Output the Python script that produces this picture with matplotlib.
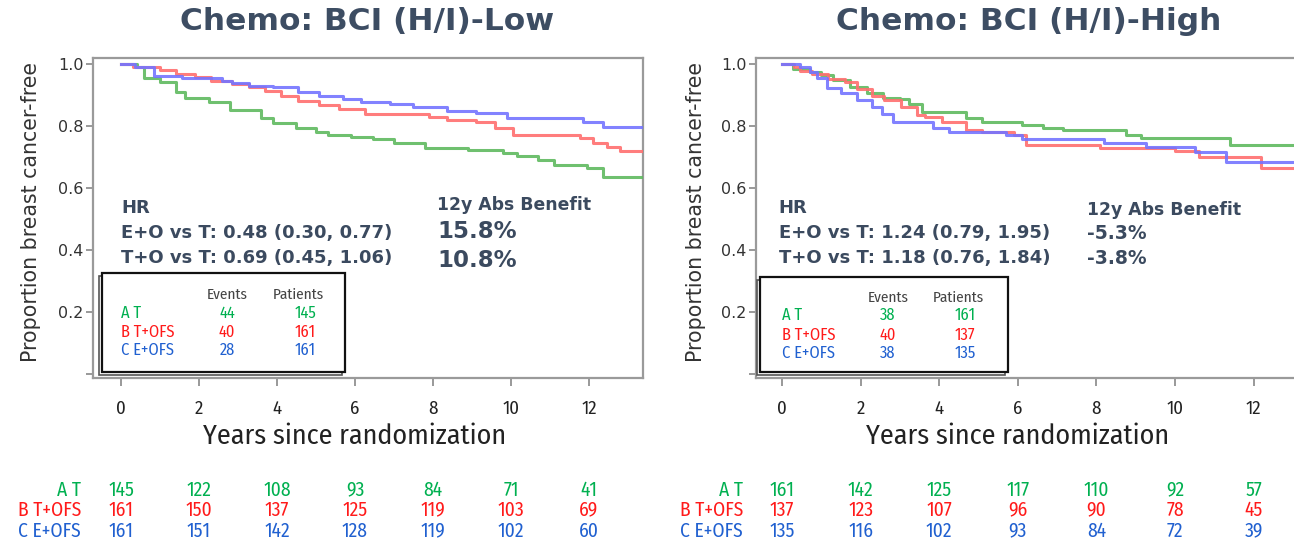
import matplotlib
matplotlib.use("Agg")
import matplotlib.pyplot as plt
from matplotlib.patches import Rectangle
from matplotlib import transforms

# ---------------- data ----------------
groups = ["A T", "B T+OFS", "C E+OFS"]

# Left panel: Chemo BCI (H/I)-Low  (step points: time in years, survival)
low_T_t = [0, 0.4, 0.6, 1.0, 1.4, 1.65, 2.25, 2.8, 3.6, 3.9, 4.5, 5.0, 5.3, 5.9, 6.45, 7.0, 7.8, 8.9, 9.8, 10.15, 10.7, 11.1, 11.95, 12.36, 13.4]
low_T_s = [1.0, 0.99, 0.955, 0.942, 0.91, 0.89, 0.878, 0.852, 0.826, 0.81, 0.794, 0.78, 0.772, 0.765, 0.757, 0.744, 0.73, 0.723, 0.713, 0.703, 0.69, 0.674, 0.664, 0.635, 0.635]
low_TO_t = [0, 0.3, 1.0, 1.4, 1.9, 2.3, 2.85, 3.27, 3.7, 4.1, 4.55, 5.07, 5.6, 6.25, 7.9, 8.37, 9.1, 9.6, 10.05, 11.77, 12.1, 12.46, 12.8, 13.4]
low_TO_s = [1.0, 0.99, 0.98, 0.968, 0.957, 0.946, 0.935, 0.925, 0.914, 0.898, 0.882, 0.868, 0.855, 0.84, 0.83, 0.82, 0.814, 0.794, 0.771, 0.761, 0.745, 0.733, 0.72, 0.72]
low_EO_t = [0, 0.36, 0.85, 1.57, 2.6, 2.85, 3.27, 3.9, 4.55, 5.07, 5.7, 6.15, 6.9, 7.5, 8.37, 9.1, 9.9, 11.85, 12.36, 13.4]
low_EO_s = [1.0, 0.99, 0.96, 0.955, 0.945, 0.938, 0.93, 0.925, 0.909, 0.898, 0.887, 0.876, 0.871, 0.86, 0.85, 0.843, 0.826, 0.814, 0.797, 0.797]

# Right panel: Chemo BCI (H/I)-High
high_T_t = [0, 0.28, 0.7, 1.0, 1.3, 1.73, 2.16, 2.57, 3.0, 3.24, 3.55, 4.68, 5.09, 6.1, 6.63, 7.14, 8.75, 9.13, 11.4, 13.1]
high_T_s = [1.0, 0.985, 0.975, 0.963, 0.948, 0.927, 0.906, 0.89, 0.888, 0.872, 0.845, 0.827, 0.813, 0.802, 0.795, 0.787, 0.77, 0.761, 0.739, 0.739]
high_TO_t = [0, 0.3, 0.46, 0.77, 1.18, 1.6, 1.9, 2.3, 2.6, 3.03, 3.44, 3.65, 4.06, 4.68, 5.09, 5.9, 6.2, 8.1, 10.0, 10.6, 12.2, 13.1]
high_TO_s = [1.0, 0.99, 0.979, 0.968, 0.952, 0.941, 0.92, 0.898, 0.884, 0.861, 0.834, 0.829, 0.813, 0.788, 0.78, 0.77, 0.738, 0.729, 0.72, 0.70, 0.665, 0.665]
high_EO_t = [0, 0.45, 0.7, 0.9, 1.15, 1.5, 1.9, 2.3, 2.55, 2.83, 3.85, 4.26, 5.7, 6.1, 8.2, 9.25, 10.5, 11.3, 13.1]
high_EO_s = [1.0, 0.99, 0.973, 0.955, 0.922, 0.907, 0.884, 0.862, 0.84, 0.813, 0.795, 0.78, 0.77, 0.758, 0.745, 0.732, 0.716, 0.684, 0.684]

# Legend tables
low_events = [44, 40, 28]
low_patients = [145, 161, 161]
high_events = [38, 40, 38]
high_patients = [161, 137, 135]

# Numbers at risk
risk_times = [0, 2, 4, 6, 8, 10, 12]
low_risk_T = [145, 122, 108, 93, 84, 71, 41]
low_risk_TO = [161, 150, 137, 125, 119, 103, 69]
low_risk_EO = [161, 151, 142, 128, 119, 102, 60]
high_risk_T = [161, 142, 125, 117, 110, 92, 57]
high_risk_TO = [137, 123, 107, 96, 90, 78, 45]
high_risk_EO = [135, 116, 102, 93, 84, 72, 39]

titles = ["Chemo: BCI (H/I)-Low", "Chemo: BCI (H/I)-High"]
hr_lines_low = ["HR", "E+O vs T: 0.48 (0.30, 0.77)", "T+O vs T: 0.69 (0.45, 1.06)"]
abs_low = ["15.8%", "10.8%"]
hr_lines_high = ["HR", "E+O vs T: 1.24 (0.79, 1.95)", "T+O vs T: 1.18 (0.76, 1.84)"]
abs_high = ["-5.3%", "-3.8%"]

# ---------------- style ----------------
line_cols = ["#5fba5f", "#ff6f6f", "#7474ff"]
text_cols = ["#00b050", "#ff1a1a", "#2060d0"]
dark = "#3b4a5f"
plt.rcParams["font.family"] = ["DejaVu Sans"]
COND = ["Fira Sans Condensed", "DejaVu Sans"]

W, H = 1294, 543
fig = plt.figure(figsize=(W / 100, H / 100), dpi=100)

def px(x, y):
    return x / W, 1 - y / H

ax1 = fig.add_axes([93 / W, 1 - 378 / H, (643 - 93) / W, (378 - 58) / H])
ax2 = fig.add_axes([756 / W, 1 - 378 / H, (1294 - 756) / W, (378 - 58) / H])

ylim = (-0.0129, 1.0194)
xlims = [(-0.718, 13.385), (-0.662, 13.028)]
origin_px = [121, 782]
px_per_year = [39.0, 39.3]

panels = [
    (ax1, [(low_T_t, low_T_s), (low_TO_t, low_TO_s), (low_EO_t, low_EO_s)]),
    (ax2, [(high_T_t, high_T_s), (high_TO_t, high_TO_s), (high_EO_t, high_EO_s)]),
]

for i, (ax, curves) in enumerate(panels):
    for (t, s), c in zip(curves, line_cols):
        ax.step(t, s, where="post", color=c, lw=2.2, alpha=0.9, zorder=3)
    ax.set_xlim(*xlims[i])
    ax.set_ylim(*ylim)
    for sp in ax.spines.values():
        sp.set_color("#9a9a9a")
        sp.set_linewidth(1.6)
    if i == 1:
        ax.spines["right"].set_visible(False)
    ax.set_yticks([0.0, 0.2, 0.4, 0.6, 0.8, 1.0])
    ax.set_yticklabels(["", "0.2", "0.4", "0.6", "0.8", "1.0"])
    ax.set_xticks(risk_times)
    ax.set_xticklabels([str(v) for v in risk_times], fontsize=13.5, family=COND)
    ax.tick_params(axis="y", length=5, width=1.2, color="#888888", labelsize=11.5,
                   labelcolor="#333333", pad=2)
    ax.tick_params(axis="x", length=6, width=1.2, color="#888888", labelcolor="#222222", pad=10)

# titles and y labels
for i, xc in enumerate([367, 1029]):
    fig.text(*px(xc, 22), titles[i], ha="center", va="center", fontsize=22.5,
             fontweight="bold", color="#3d4d63")
for xc in [31, 696]:
    fig.text(*px(xc, 212), "Proportion breast cancer-free", rotation=90, ha="center",
             va="center", fontsize=14.8, color="#333333")

# x label centered on year 6
for ax in (ax1, ax2):
    tr = transforms.blended_transform_factory(ax.transData, fig.transFigure)
    ax.text(6, 1 - 436 / H, "Years since randomization", transform=tr, ha="center",
            va="center", fontsize=20.2, family=COND, color="#222222")

# HR annotation text
def yv(ypx):
    return (374 - ypx) / 310

for ax, lines, ab, x0, xb, big in [
    (ax1, hr_lines_low, abs_low, 0.0, 8.1, 16.5),
    (ax2, hr_lines_high, abs_high, -0.08, 7.76, 13.5),
]:
    for txt, ypx in zip(lines, [208, 233, 258]):
        ax.text(x0, yv(ypx), txt, ha="left", va="center", fontsize=13,
                fontweight="bold", color=dark, zorder=5)
    ax.text(xb, yv(205 if big > 14 else 210), "12y Abs Benefit", ha="left", va="center",
            fontsize=12.4, fontweight="bold", color=dark, zorder=5)
    for txt, ypx in zip(ab, [231, 260] if big > 14 else [233, 258]):
        ax.text(xb, yv(ypx), txt, ha="left", va="center", fontsize=big,
                fontweight="bold", color=dark, zorder=5)

# legend boxes
for i, (ax, box, rows_y, hdr_y, ev_x, pt_hdr_x, pt_x, events, patients) in enumerate([
    (ax1, (102, 345, 273), [313, 332, 350], 295, 2.72, 4.56, 4.72, low_events, low_patients),
    (ax2, (760, 1008, 277), [315, 335, 353], 298, 2.7, 4.5, 4.66, high_events, high_patients),
]):
    x0px, sc = origin_px[i], px_per_year[i]
    bx0 = (box[0] - x0px) / sc
    bx1 = (box[1] - x0px) / sc
    by1 = yv(box[2])
    by0 = yv(372)
    off = 3 / sc
    ax.add_patch(Rectangle((bx0 - off, by0 - 3 / 310), bx1 - bx0, by1 - by0,
                           facecolor="none", edgecolor="#555555", lw=1.2, zorder=4))
    ax.add_patch(Rectangle((bx0, by0), bx1 - bx0, by1 - by0, facecolor="white",
                           edgecolor="#111111", lw=1.6, zorder=4))
    ax.text(ev_x, yv(hdr_y), "Events", ha="center", va="center", fontsize=11,
            family=COND, color="#444444", zorder=5)
    ax.text(pt_hdr_x, yv(hdr_y), "Patients", ha="center", va="center", fontsize=11,
            family=COND, color="#444444", zorder=5)
    for g, ypx, c, e, p in zip(groups, rows_y, text_cols, events, patients):
        ax.text(0.0, yv(ypx), g, ha="left", va="center", fontsize=11.8,
                family=COND, color=c, zorder=5)
        ax.text(ev_x, yv(ypx), str(e), ha="center", va="center", fontsize=11.8,
                family=COND, color=c, zorder=5)
        ax.text(pt_x, yv(ypx), str(p), ha="center", va="center", fontsize=11.8,
                family=COND, color=c, zorder=5)

# numbers at risk
for ax, lab_x, rows in [
    (ax1, -1.02, [low_risk_T, low_risk_TO, low_risk_EO]),
    (ax2, -0.99, [high_risk_T, high_risk_TO, high_risk_EO]),
]:
    tr = transforms.blended_transform_factory(ax.transData, fig.transFigure)
    for g, vals, c, ypx in zip(groups, rows, text_cols, [490, 510, 531]):
        ax.text(lab_x, 1 - ypx / H, g, transform=tr, ha="right", va="center",
                fontsize=14, family=COND, color=c, clip_on=False)
        for t, v in zip(risk_times, vals):
            ax.text(t, 1 - ypx / H, str(v), transform=tr, ha="center", va="center",
                    fontsize=14, family=COND, color=c, clip_on=False)

fig.savefig("out.png", dpi=100)
